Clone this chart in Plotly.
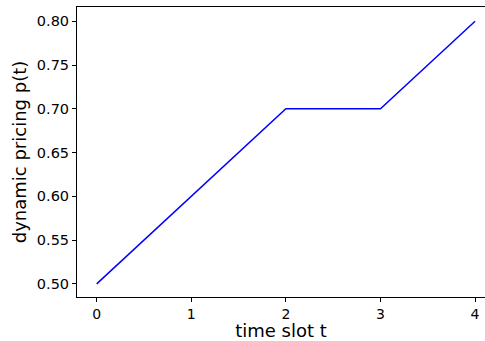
import plotly.graph_objects as go

t = [0, 1, 2, 3, 4]
price = [0.50, 0.60, 0.70, 0.70, 0.80]
x_ticks = [0, 1, 2, 3, 4]
y_ticks = [0.50, 0.55, 0.60, 0.65, 0.70, 0.75, 0.80]

fig = go.Figure()
fig.add_trace(go.Scatter(x=t, y=price, mode="lines",
                         line=dict(color="#0000ff", width=1.5)))

font = "DejaVu Sans"
fig.update_layout(
    width=485, height=341,
    margin=dict(l=77, r=0, t=7, b=44),
    paper_bgcolor="white", plot_bgcolor="white",
    showlegend=False,
    font=dict(family=font, color="black"),
)
fig.update_xaxes(
    range=[-0.208, 4.105], tickvals=x_ticks, ticktext=[str(v) for v in x_ticks],
    showgrid=False, zeroline=False, showline=True, linecolor="black", linewidth=1,
    mirror=True, ticks="outside", ticklen=4, tickcolor="black", tickwidth=1,
    tickfont=dict(size=14, family=font),
    title=dict(text="time slot t", font=dict(size=18, family=font), standoff=8),
)
fig.update_yaxes(
    range=[0.485, 0.8163], tickvals=y_ticks, ticktext=[f"{v:.2f}" for v in y_ticks],
    showgrid=False, zeroline=False, showline=True, linecolor="black", linewidth=1,
    ticks="outside", ticklen=4, tickcolor="black", tickwidth=1,
    tickfont=dict(size=14.5, family=font),
    title=dict(text="dynamic pricing p(t)", font=dict(size=18, family=font), standoff=5),
)
fig.write_html("out.html")
